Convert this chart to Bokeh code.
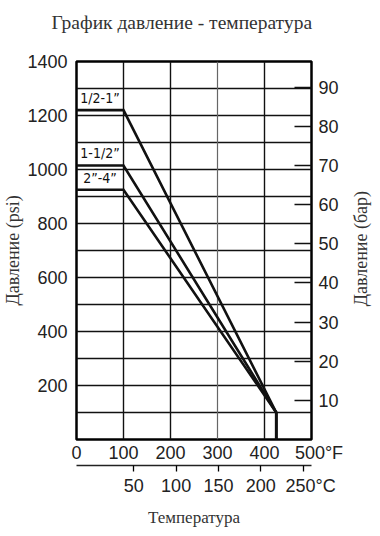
import math
from bokeh.plotting import figure
from bokeh.models import Range1d, LinearAxis, FixedTicker, Grid
from bokeh.core.properties import value
from bokeh.embed import file_html
from bokeh.resources import INLINE

# ---- data ----
temp_f = [0, 100, 425, 425]
psi_half_1 = [1220, 1220, 100, 0]
psi_1_half = [1015, 1015, 100, 0]
psi_2_4 = [925, 925, 100, 0]
series_names = ["1/2-1\u201d", "1-1/2\u201d", "2\u201d-4\u201d"]
series_psi = [psi_half_1, psi_1_half, psi_2_4]
label_x = [50, 50, 50]

psi_ticks = [200, 400, 600, 800, 1000, 1200, 1400]
f_ticks = [0, 100, 200, 300, 400, 500]
c_ticks = [50, 100, 150, 200, 250]
bar_ticks = [10, 20, 30, 40, 50, 60, 70, 80, 90]
PSI_PER_BAR = 14.5038
NB = "\u00a0\u00a0\u00a0"
TITLE = "График давление - температура"
RIGHT_TITLE = "Давление (бар)"
RIGHT_TITLE_START = 34  # bar value where the rotated right title begins

SANS = "Liberation Sans"
SERIF = "Liberation Serif"
TXT = "#222222"

p = figure(frame_width=235, frame_height=378, output_backend="svg", toolbar_location=None,
           x_range=Range1d(0, 500), y_range=Range1d(0, 1400),
           min_border_left=68, min_border_right=61, min_border_top=61,
           min_border_bottom=80, background_fill_color="white")
p.extra_x_ranges = {"c": Range1d((0 - 32) * 5 / 9, (500 - 32) * 5 / 9)}
p.extra_y_ranges = {"bar": Range1d(0, 1400 / PSI_PER_BAR)}

xa = p.below[0]
ya = p.left[0]

p.outline_line_color = "black"
p.outline_line_width = 2.5

# grids
p.xgrid.ticker = FixedTicker(ticks=[100, 200, 400])
p.ygrid.ticker = FixedTicker(ticks=list(range(100, 1400, 100)))
for g in (p.xgrid, p.ygrid):
    g.grid_line_color = "#111111"
    g.grid_line_width = 1.4
    g.grid_line_alpha = 1
g300 = Grid(dimension=0, ticker=FixedTicker(ticks=[300]),
            grid_line_color="#666666", grid_line_width=1.2)
p.add_layout(g300)

# bottom F axis
xa.ticker = FixedTicker(ticks=f_ticks)
xa.major_label_overrides = {f_ticks[-1]: NB + str(f_ticks[-1]) + "°F"}
xa.axis_line_color = None
xa.major_tick_out = 0
xa.major_tick_in = 0
xa.minor_tick_out = 0
xa.minor_tick_in = 0
xa.major_label_standoff = 3
xa.major_label_text_font = SANS
xa.major_label_text_font_size = "18px"
xa.major_label_text_color = TXT

# bottom C axis
ca = LinearAxis(x_range_name="c", ticker=FixedTicker(ticks=c_ticks),
                major_label_overrides={c_ticks[-1]: NB + str(c_ticks[-1]) + "°C"},
                axis_line_color="#222222", axis_line_width=1.5,
                major_tick_out=6, major_tick_in=0, major_tick_line_width=1.3,
                minor_tick_out=0, minor_tick_in=0,
                major_label_standoff=4,
                major_label_text_font=SANS, major_label_text_font_size="18px",
                major_label_text_color=TXT,
                axis_label="Температура", axis_label_text_font=SERIF,
                axis_label_text_font_style="normal", axis_label_text_font_size="17px",
                axis_label_text_color="#333333", axis_label_standoff=9)
p.add_layout(ca, "below")

# title as the label of an empty top axis
ta = LinearAxis(ticker=FixedTicker(ticks=[]), axis_line_color=None,
                major_tick_out=0, major_tick_in=0, minor_tick_out=0, minor_tick_in=0,
                axis_label=TITLE + "\u00a0" * 5, axis_label_text_font=SERIF,
                axis_label_text_font_style="normal", axis_label_text_font_size="19.5px",
                axis_label_text_color="#333333", axis_label_standoff=29)
p.add_layout(ta, "above")

# left psi axis
ya.ticker = FixedTicker(ticks=psi_ticks)
ya.axis_line_color = None
ya.major_tick_out = 0
ya.major_tick_in = 0
ya.minor_tick_out = 0
ya.minor_tick_in = 0
ya.major_label_standoff = 9
ya.major_label_text_font = SANS
ya.major_label_text_font_size = "18px"
ya.major_label_text_color = TXT
ya.axis_label = "Давление (psi)"
ya.axis_label_text_font = SERIF
ya.axis_label_text_font_style = "normal"
ya.axis_label_text_font_size = "18px"
ya.axis_label_text_color = "#333333"
ya.axis_label_standoff = 1

# right bar axis (ticks drawn inward)
ra = LinearAxis(y_range_name="bar", ticker=FixedTicker(ticks=bar_ticks),
                axis_line_color=None,
                major_tick_in=17, major_tick_out=0, major_tick_line_width=1.3,
                major_tick_line_color="#111111",
                minor_tick_out=0, minor_tick_in=0,
                major_label_standoff=7,
                major_label_text_font=SANS, major_label_text_font_size="18px",
                major_label_text_color=TXT)
p.add_layout(ra, "right")

# right axis title: a single rotated tick label on an empty axis
rt = LinearAxis(y_range_name="bar", ticker=FixedTicker(ticks=[RIGHT_TITLE_START]),
                major_label_overrides={RIGHT_TITLE_START: RIGHT_TITLE},
                major_label_orientation=math.pi / 2,
                axis_line_color=None, major_tick_out=0, major_tick_in=0,
                minor_tick_out=0, minor_tick_in=0,
                major_label_standoff=20,
                major_label_text_font=SERIF, major_label_text_font_size="18px",
                major_label_text_color="#333333")
p.add_layout(rt, "right")

# curves
for ys in series_psi:
    p.line(temp_f, ys, line_color="#111111", line_width=2.6, line_join="miter")

p.text(x=label_x, y=[s[0] for s in series_psi], text=series_names,
       text_align="center", text_baseline="bottom", y_offset=-4,
       text_font=value("DejaVu Sans Condensed"), text_font_size="14px",
       text_color="#111111")

open("out.html", "w").write(file_html(p, INLINE))
